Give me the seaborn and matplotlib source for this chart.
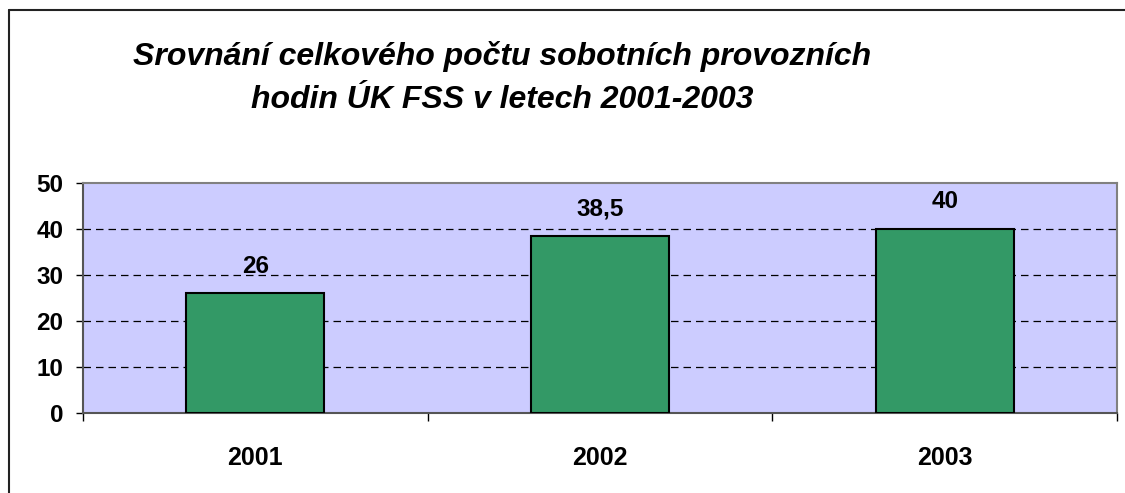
import matplotlib
matplotlib.use("Agg")
import matplotlib.pyplot as plt
from matplotlib.lines import Line2D
from matplotlib.ticker import FixedLocator
import seaborn as sns
import pandas as pd

# data
years = ["2001", "2002", "2003"]
hours = [26, 38.5, 40]
labels = ["26", "38,5", "40"]
title = "Srovnání celkového počtu sobotních provozních\nhodin ÚK FSS v letech 2001-2003"

sns.set_style("white")
plt.rcParams['font.family'] = ['Liberation Sans', 'DejaVu Sans']
plt.rcParams['text.color'] = 'black'
plt.rcParams['xtick.color'] = 'black'
plt.rcParams['ytick.color'] = 'black'

df = pd.DataFrame({"rok": years, "hodiny": hours})

fig = plt.figure(figsize=(11.25, 4.93), dpi=100)
ax = fig.add_axes([83/1125, 1 - 413/493, 1034/1125, 230/493])
ax.set_facecolor("#CCCCFF")

sns.barplot(data=df, x="rok", y="hodiny", color="#339966", width=0.4,
            edgecolor="black", linewidth=1.5, saturation=1, ax=ax, zorder=3)

ax.set_xlim(-0.5, 2.5)
ax.set_ylim(0, 50)
ax.set_yticks(range(0, 51, 10))
ax.set_xlabel("")
ax.set_ylabel("")

for y in range(10, 50, 10):
    ax.axhline(y, color="black", lw=0.9, ls=(0, (6, 4)), zorder=1)

for i, (v, t) in enumerate(zip(hours, labels)):
    ax.annotate(t, (i, v), xytext=(0, 15), textcoords="offset points",
                ha="center", va="baseline", fontsize=17.5, fontweight="bold")

for side in ["top", "right"]:
    ax.spines[side].set_visible(True)
    ax.spines[side].set_color("#808080")
    ax.spines[side].set_linewidth(1.5)
for side in ["left", "bottom"]:
    ax.spines[side].set_color("#555555")
    ax.spines[side].set_linewidth(1.5)

ax.tick_params(axis="y", which="major", length=5, width=1, color="black",
               left=True, labelsize=17.5, pad=9)
ax.tick_params(axis="x", which="major", length=0, labelsize=18, pad=24)
ax.xaxis.set_minor_locator(FixedLocator([-0.5, 0.5, 1.5, 2.5]))
ax.tick_params(axis="x", which="minor", length=6, width=1, color="black", bottom=True)
for lab in ax.get_xticklabels() + ax.get_yticklabels():
    lab.set_fontweight("bold")

fig.text(502/1125, 1 - 78/493, title, ha="center", va="center",
         fontsize=23, fontweight="bold", fontstyle="italic", linespacing=1.6)

# frame of the chart (left and top edge only visible)
fig.add_artist(Line2D([9/1125, 9/1125], [0, 1 - 10/493], color="#222222", lw=1.5,
                      transform=fig.transFigure))
fig.add_artist(Line2D([9/1125, 1], [1 - 10/493, 1 - 10/493], color="#222222", lw=1.5,
                      transform=fig.transFigure))

fig.savefig("out.png", dpi=100)
